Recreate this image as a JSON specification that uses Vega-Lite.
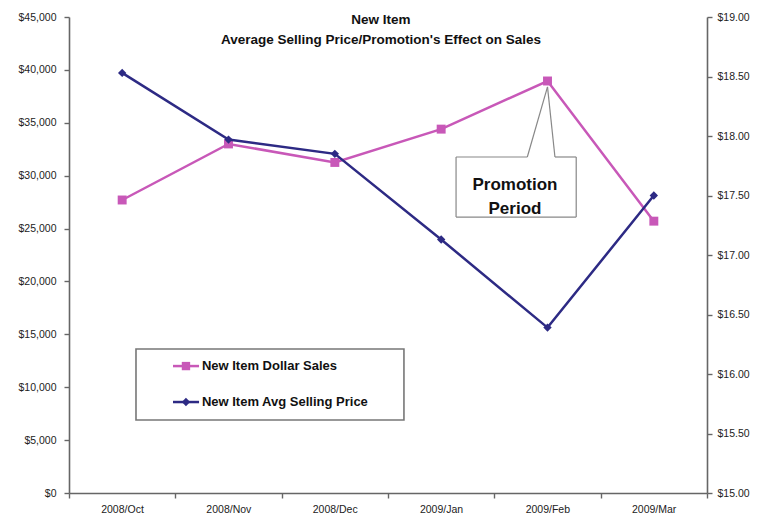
{
  "$schema": "https://vega.github.io/schema/vega-lite/v6.json",
  "width": 638,
  "height": 476,
  "autosize": "none",
  "padding": {"left": 69, "top": 17, "right": 57, "bottom": 28},
  "background": "white",
  "config": {
    "view": {"stroke": null},
    "font": "Liberation Sans",
    "axis": {"labelFont": "Liberation Sans", "labelFontSize": 10.5, "labelColor": "#222", "domainColor": "#666", "domainWidth": 1.6, "tickColor": "#666", "tickWidth": 1.4, "grid": false}
  },
  "title": {
    "text": ["New Item", "Average Selling Price/Promotion's Effect on Sales"],
    "fontSize": 13.5,
    "fontWeight": "bold",
    "font": "Liberation Sans",
    "color": "#111",
    "anchor": "middle",
    "frame": "group",
    "baseline": "top",
    "lineHeight": 20,
    "offset": -34,
    "dx": -7
  },
  "datasets": {
    "sales": [
      {"idx": 0, "month": "2008/Oct", "series": "New Item  Dollar Sales", "value": 27700},
      {"idx": 1, "month": "2008/Nov", "series": "New Item  Dollar Sales", "value": 33000},
      {"idx": 2, "month": "2008/Dec", "series": "New Item  Dollar Sales", "value": 31250},
      {"idx": 3, "month": "2009/Jan", "series": "New Item  Dollar Sales", "value": 34400},
      {"idx": 4, "month": "2009/Feb", "series": "New Item  Dollar Sales", "value": 38950},
      {"idx": 5, "month": "2009/Mar", "series": "New Item  Dollar Sales", "value": 25700}
    ],
    "price": [
      {"idx": 0, "month": "2008/Oct", "series": "New Item Avg Selling Price", "value": 18.53},
      {"idx": 1, "month": "2008/Nov", "series": "New Item Avg Selling Price", "value": 17.97},
      {"idx": 2, "month": "2008/Dec", "series": "New Item Avg Selling Price", "value": 17.85},
      {"idx": 3, "month": "2009/Jan", "series": "New Item Avg Selling Price", "value": 17.13},
      {"idx": 4, "month": "2009/Feb", "series": "New Item Avg Selling Price", "value": 16.39},
      {"idx": 5, "month": "2009/Mar", "series": "New Item Avg Selling Price", "value": 17.50}
    ],
    "legendBox": [{"x": 0.13, "x2": 2.65, "y": 6900, "y2": 13620}],
    "legendItems": [
      {"series": "New Item  Dollar Sales", "x": 0.478, "x2": 0.723, "xm": 0.60, "tx": 0.75, "y": 12000},
      {"series": "New Item Avg Selling Price", "x": 0.478, "x2": 0.723, "xm": 0.60, "tx": 0.75, "y": 8600}
    ],
    "calloutBox": [{"x": 3.14, "x2": 4.27, "y": 26090, "y2": 31765}],
    "calloutLines": [
      {"x": 3.14, "x2": 3.14, "y": 26090, "y2": 31765},
      {"x": 3.14, "x2": 4.27, "y": 26090, "y2": 26090},
      {"x": 4.27, "x2": 4.27, "y": 26090, "y2": 31765},
      {"x": 3.14, "x2": 3.81, "y": 31765, "y2": 31765},
      {"x": 4.07, "x2": 4.27, "y": 31765, "y2": 31765},
      {"x": 3.81, "x2": 4.0, "y": 31765, "y2": 38400},
      {"x": 4.07, "x2": 4.0, "y": 31765, "y2": 38400}
    ],
    "calloutText": [{"x": 3.694, "y": 29118, "label": "Promotion\nPeriod"}]
  },
  "layer": [
    {
      "layer": [
        {
          "data": {"name": "legendBox"},
          "mark": {"type": "rect", "fill": "white", "stroke": "#777", "strokeWidth": 1.6},
          "encoding": {
            "x": {"field": "x", "type": "quantitative", "scale": {"domain": [-0.5, 5.5], "nice": false, "zero": false}, "title": null},
            "x2": {"field": "x2"},
            "y": {"field": "y", "type": "quantitative", "scale": {"domain": [0, 45000], "nice": false}, "title": null},
            "y2": {"field": "y2"}
          }
        },
        {
          "data": {"name": "calloutBox"},
          "mark": {"type": "rect", "fill": "white"},
          "encoding": {
            "x": {"field": "x", "type": "quantitative", "title": null},
            "x2": {"field": "x2"},
            "y": {"field": "y", "type": "quantitative", "title": null},
            "y2": {"field": "y2"}
          }
        },
        {
          "data": {"name": "calloutLines"},
          "mark": {"type": "rule", "color": "#888", "strokeWidth": 1.2},
          "encoding": {
            "x": {"field": "x", "type": "quantitative", "title": null},
            "x2": {"field": "x2"},
            "y": {"field": "y", "type": "quantitative", "title": null},
            "y2": {"field": "y2"}
          }
        },
        {
          "data": {"name": "calloutText"},
          "mark": {"type": "text", "fontSize": 17, "fontWeight": "bold", "font": "Liberation Sans", "color": "#111", "align": "center", "baseline": "middle", "lineBreak": "\n", "lineHeight": 24},
          "encoding": {
            "x": {"field": "x", "type": "quantitative", "title": null},
            "y": {"field": "y", "type": "quantitative", "title": null},
            "text": {"field": "label"}
          }
        },
        {
          "data": {"name": "legendItems"},
          "mark": {"type": "rule", "strokeWidth": 2.5},
          "encoding": {
            "x": {"field": "x", "type": "quantitative", "title": null},
            "x2": {"field": "x2"},
            "y": {"field": "y", "type": "quantitative", "title": null},
            "color": {"field": "series", "type": "nominal", "legend": null}
          }
        },
        {
          "data": {"name": "legendItems"},
          "mark": {"type": "point", "filled": true, "opacity": 1, "size": 70},
          "encoding": {
            "x": {"field": "xm", "type": "quantitative", "title": null},
            "y": {"field": "y", "type": "quantitative", "title": null},
            "color": {"field": "series", "type": "nominal", "legend": null},
            "shape": {"field": "series", "type": "nominal", "legend": null}
          }
        },
        {
          "data": {"name": "legendItems"},
          "mark": {"type": "text", "align": "left", "baseline": "middle", "fontSize": 13, "fontWeight": "bold", "font": "Liberation Sans", "color": "#111"},
          "encoding": {
            "x": {"field": "tx", "type": "quantitative", "title": null},
            "y": {"field": "y", "type": "quantitative", "title": null},
            "text": {"field": "series"}
          }
        },
        {
          "data": {"name": "sales"},
          "mark": {"type": "line", "strokeWidth": 2.5, "point": {"filled": true, "size": 80, "opacity": 1}},
          "encoding": {
            "x": {
              "field": "idx", "type": "quantitative", "title": null,
              "axis": {
                "values": [-0.5, 0.5, 1.5, 2.5, 3.5, 4.5, 5.5],
                "labelExpr": "datum.value > 5 ? '' : ['2008/Oct','2008/Nov','2008/Dec','2009/Jan','2009/Feb','2009/Mar'][datum.value + 0.5]",
                "labelOffset": 53,
                "labelFlush": false,
                "labelOverlap": false,
                "tickSize": 5,
                "labelPadding": 6
              }
            },
            "y": {
              "field": "value", "type": "quantitative", "title": null,
              "axis": {"format": "$,.0f", "values": [0, 5000, 10000, 15000, 20000, 25000, 30000, 35000, 40000, 45000], "tickSize": 5, "labelPadding": 8}
            },
            "color": {"field": "series", "type": "nominal", "legend": null,
              "scale": {"domain": ["New Item  Dollar Sales", "New Item Avg Selling Price"], "range": ["#C858B8", "#2D2A84"]}},
            "shape": {"field": "series", "type": "nominal", "legend": null,
              "scale": {"domain": ["New Item  Dollar Sales", "New Item Avg Selling Price"], "range": ["square", "diamond"]}}
          }
        }
      ]
    },
    {
      "data": {"name": "price"},
      "mark": {"type": "line", "strokeWidth": 2.5, "point": {"filled": true, "size": 70, "opacity": 1}},
      "encoding": {
        "x": {"field": "idx", "type": "quantitative", "title": null},
        "y": {
          "field": "value", "type": "quantitative", "title": null,
          "scale": {"domain": [15, 19], "nice": false, "zero": false},
          "axis": {"orient": "right", "format": "$.2f", "values": [15, 15.5, 16, 16.5, 17, 17.5, 18, 18.5, 19], "tickSize": 5, "labelPadding": 5}
        },
        "color": {"field": "series", "type": "nominal", "legend": null},
        "shape": {"field": "series", "type": "nominal", "legend": null}
      }
    }
  ],
  "resolve": {"scale": {"y": "independent"}, "axis": {"y": "independent"}}
}
